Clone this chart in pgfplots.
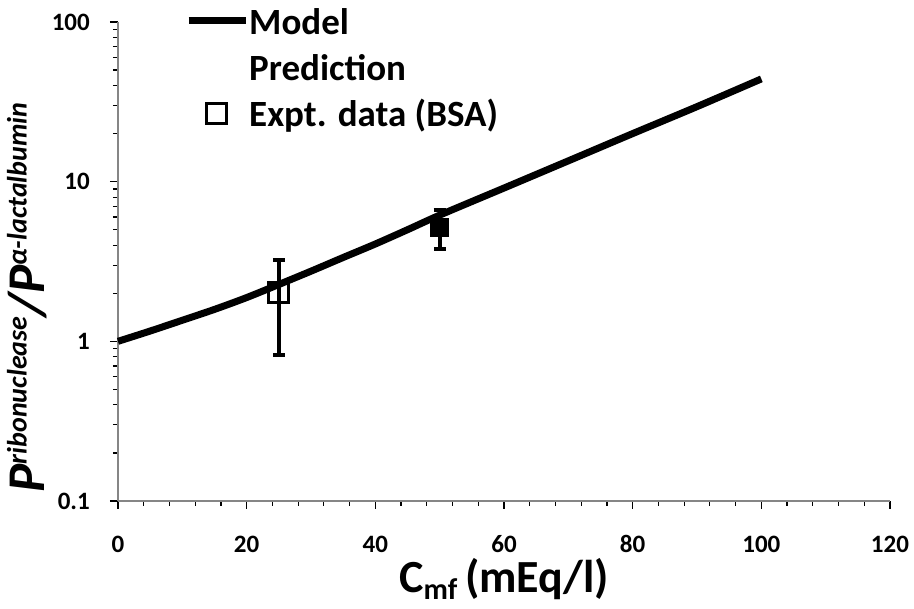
\documentclass[border=0pt]{standalone}
\usepackage{pgfplots}
\pgfplotsset{compat=1.18}
\usepackage{fontspec}
\setmainfont{Carlito}
\definecolor{axisgray}{HTML}{868686}

% model prediction
\pgfplotstableread{
x y
0 1
5 1.16
10 1.355
15 1.585
20 1.88
25 2.27
30 2.75
35 3.35
40 4.07
45 5.0
50 6.17
60 9.12
70 13.5
80 20.0
90 29.5
100 44
}\modeltable

\pgfplotstableread{
x y ep em
25 2.02 1.23 1.2
}\bsaopen

\pgfplotstableread{
x y ep em
50 5.2 1.4 1.4
}\bsafilled

\begin{document}
\begin{tikzpicture}
\path[use as bounding box] (-118pt,-108pt) rectangle (796pt,501pt);
\begin{axis}[
    scale only axis, width=772pt, height=479pt,
    ymode=log,
    xmin=0, xmax=120, ymin=0.1, ymax=100,
    axis x line=bottom, axis y line=left,
    axis line style={-, draw=axisgray, line width=1.3pt},
    xtick={0,20,...,120}, minor x tick num=4,
    ytick={0.1,1,10,100}, yticklabels={0.1,1,10,100},
    tick align=outside, major tick length=8pt, minor tick length=5pt,
    tick style={black, line width=1.2pt},
    /pgf/number format/assume math mode=true,
    tick label style={font=\fontsize{25}{30}\selectfont\bfseries, inner sep=0pt},
    xticklabel style={anchor=base, yshift=-44pt},
    yticklabel style={anchor=east, xshift=-20pt},
    xlabel={\fontsize{46}{52}\selectfont\bfseries C\raisebox{-7pt}{\fontsize{30}{34}\selectfont mf}\,(mEq/l)},
    xlabel style={anchor=base, at={(axis description cs:0.5,0)}, yshift=-92pt, inner sep=0pt},
    ylabel={\fontsize{53}{60}\selectfont\bfseries\itshape P\raisebox{18pt}{\fontsize{28}{32}\selectfont ribonuclease}/P\raisebox{18pt}{\fontsize{28}{32}\selectfont α-lactalbumin}},
    ylabel style={anchor=center, at={(axis description cs:0,0.5)}, yshift=91pt, xshift=-36pt, inner sep=0pt},
    legend style={draw=none, fill=none, at={(axis description cs:0,1)}, anchor=north west,
        xshift=67pt, yshift=20pt, inner sep=0pt, row sep=0pt,
        font=\fontsize{37}{44}\selectfont\bfseries,
        nodes={inner xsep=0pt, inner ysep=1pt, text height=31pt, text depth=13pt}},
    legend cell align=left,
    clip=false,
]
\addlegendimage{legend image code/.code={\draw[line width=7pt] (0pt,5pt) -- (57pt,5pt);}}
\addlegendentry{Model}
\addlegendimage{empty legend}
\addlegendentry{Prediction}
\addlegendimage{legend image code/.code={\draw[line width=3pt] (28pt,4pt) +(-10pt,-10pt) rectangle +(10pt,10pt);}}
\addlegendentry{Expt. data (BSA)}

\addplot[black, line width=7pt, smooth, forget plot] table[x=x, y=y] {\modeltable};

\addplot[black, only marks, mark=square, mark size=10pt, mark options={line width=3pt},
    forget plot,
    error bars/.cd, y dir=both, y explicit,
    error bar style={line width=4pt},
    error mark options={rotate=90, line width=4pt, mark size=6pt}]
    table[x=x, y=y, y error plus=ep, y error minus=em] {\bsaopen};

\addplot[black, only marks, mark=square*, mark size=9pt, mark options={line width=1pt},
    forget plot,
    error bars/.cd, y dir=both, y explicit,
    error bar style={line width=4pt},
    error mark options={rotate=90, line width=4pt, mark size=6pt}]
    table[x=x, y=y, y error plus=ep, y error minus=em] {\bsafilled};
\end{axis}
\end{tikzpicture}
\end{document}
